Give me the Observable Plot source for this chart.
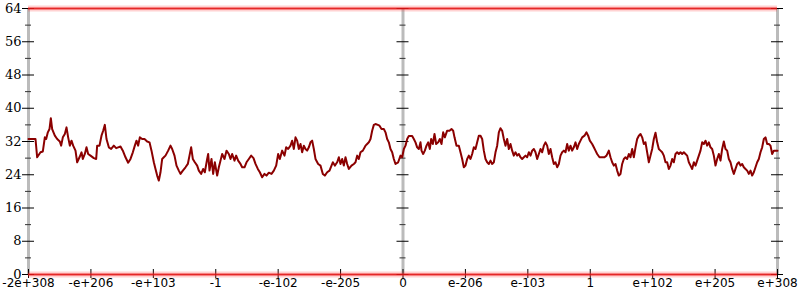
<!DOCTYPE html>
<html><head><meta charset="utf-8">
<script src="https://cdn.jsdelivr.net/npm/d3@7"></script>
<script src="https://cdn.jsdelivr.net/npm/@observablehq/plot@0.6"></script>
<style>body{margin:0;background:#fff}
.yax text{font-family:"DejaVu Serif",serif !important;font-size:13px !important}
.xax text{font-family:"DejaVu Sans",sans-serif !important;font-size:12px !important}
</style>
</head><body><div id="chart"></div>
<script>
const xTickLabels = ["-2e+308","-e+206","-e+103","-1","-e-102","-e-205","0","e-206","e-103","1","e+102","e+205","e+308"];
const yMajor = [0, 8, 16, 24, 32, 40, 48, 56, 64];
const yMinor = [4, 12, 20, 28, 36, 44, 52, 60];
const bandValues = [0, 64];
const lineT = [0,21,26,36,43,49,53,58,63,67,71,79,86,94,98,103,109,114,119,124,129,134,141,146,153,159,163,169,174,179,186,196,203,206,213,219,224,229,234,241,248,256,263,269,276,283,291,299,306,313,319,324,329,334,341,348,356,363,369,376,381,386,391,396,401,406,411,419,426,431,438,444,451,456,463,471,478,483,488,493,499,506,511,518,524,529,536,539,543,549,554,559,566,571,576,581,588,594,601,606,611,618,623,629,636,641,648,654,661,668,675,681,688,694,701,708,714,721,729,736,743,749,754,761,768,773,779,786,791,796,801,806,811,816,821,826,831,836,841,846,851,856,861,869,876,883,889,896,903,909,913,919,926,931,936,941,946,951,956,961,969,976,981,986,991,996,1003,1011,1016,1021,1026,1031,1036,1041,1048,1053,1059,1066,1071,1076,1081,1086,1091,1096,1101,1109,
1116,1121,1126,1131,1136,1141,1151,1156,1161,1166,1171,1176,1179,1184,1189,1194,1199,1204,1208,1213,1218,1223,1229,1234,1239,1244,1249,1256,1263,1269,1274,1278,1284,1291,1296,1301,1306,1311,1316,1321,1326,1331,1336,1341,1346,1351,1356,1361,1366,1371,1376,1381,1386,1391,1396,1401,1406,1411,1416,1421,1426,1431,1436,1441,1446,1451,1456,1461,1466,1471,1476,1481,1486,1491,1496,1501,1506,1511,1516,1521,1526,1531,1536,1541,1546,1551,1556,1561,1566,1571,1576,1581,1586,1591,1596,1601,1606,1611,1616,1621,1626,1631,1636,1641,1646,1651,1656,1661,1668,1674,1679,1684,1691,1696,1701,1706,1713,1721,1728,1734,1741,1746,1751,1756,1761,1766,1771,1776,1781,1786,1791,1796,1801,1806,1811,1816,1821,1826,1831,1836,1841,1846,1851,1856,1861,1866,1871,1876,1881,1886,1891,1896,1901,1906,1911,1916,1921,1926,1931,1936,1941,1946,1951,1956,1961,1966,1971,1976,1981,1986,1991,1996,2001,2006,2011,2016,2021,2026,2031,2036,2041,2046,2051,2056,2061,2066,2071,2076,2081,2086,2091,2096,2101,2106,2111,2116,2121,2126,2131,2136,2141,2146,2151,2156,2161,2166,2171,2176,2181,2186,2191,2196,2201,2206,2211,2216,2221,2226,2231,2236,2241,2247];
const lineV = [32.6,32.6,28.2,29.4,29.6,33.0,32.6,34.2,35.0,37.6,35.0,33.4,32.6,32.0,31.0,33.0,33.8,35.4,33.0,31.0,32.2,31.0,29.8,27.0,28.2,29.4,27.8,29.0,30.6,29.0,28.6,28.0,27.8,31.0,31.0,33.4,34.6,36.0,32.6,30.6,30.2,31.0,30.4,30.6,30.8,29.8,28.2,26.9,27.8,29.4,31.0,32.2,31.0,33.0,32.6,32.6,32.0,31.8,29.8,27.0,25.4,23.8,22.6,24.6,27.8,28.2,28.6,29.8,31.0,30.2,28.6,26.2,25.0,24.2,25.0,25.8,26.6,28.6,30.6,27.8,27.0,26.2,25.0,24.2,25.4,24.6,27.8,29.0,25.0,27.8,24.2,27.0,23.8,25.8,27.4,29.0,27.8,29.8,29.0,27.8,29.0,27.4,28.6,27.4,26.6,25.8,25.8,27.0,27.8,28.6,28.0,26.6,25.4,24.6,23.4,24.2,23.8,24.5,24.2,25.0,26.2,29.0,27.8,29.8,28.6,30.6,30.2,31.0,32.2,30.2,33.0,32.2,30.2,31.4,29.4,31.0,30.2,29.8,30.6,31.8,32.2,30.2,27.8,26.6,26.2,24.2,23.8,24.6,25.0,26.2,27.0,26.2,27.0,28.2,26.6,27.8,26.2,28.2,26.6,25.4,26.2,26.6,27.0,28.6,27.8,29.4,29.8,31.0,31.4,31.8,32.6,34.6,36.0,36.2,36.0,35.8,35.0,35.0,34.2,32.6,31.8,30.2,29.4,27.8,26.6,27.0,
28.6,28.2,30.2,31.0,32.6,33.3,33.3,32.6,31.8,30.6,30.2,31.8,29.8,29.0,29.8,31.0,31.8,30.2,32.6,31.4,33.8,31.4,31.8,32.6,31.4,34.2,33.0,34.6,34.6,35.0,34.6,33.0,31.0,31.0,29.4,27.8,25.8,26.2,27.8,28.6,27.8,29.0,30.6,30.2,31.8,33.4,33.4,32.6,29.8,27.8,27.0,26.6,27.4,26.6,27.0,29.4,31.0,34.2,35.2,34.6,32.6,31.0,32.6,30.2,31.4,29.8,28.6,29.4,28.6,29.0,28.2,27.8,28.2,28.6,28.2,29.4,28.6,29.8,30.2,29.4,27.8,29.0,30.2,29.4,31.0,31.8,31.0,29.0,30.2,28.2,26.6,27.0,25.8,26.6,28.6,29.4,29.8,29.4,31.4,29.8,31.0,29.8,30.6,31.8,30.2,31.4,32.2,33.0,33.4,34.2,33.4,32.2,31.4,30.6,29.8,29.0,28.2,28.2,28.2,28.6,29.8,28.2,27.0,26.2,26.6,25.0,23.8,24.2,26.6,27.8,28.2,27.8,29.0,28.2,30.2,28.2,30.6,32.6,33.4,33.8,33.0,31.4,31.8,29.4,27.0,28.6,30.2,32.6,34.1,31.8,30.2,29.8,29.4,28.6,27.0,27.0,25.4,26.2,27.8,27.0,29.0,29.4,29.0,29.4,29.0,29.4,29.0,28.6,27.0,26.2,25.4,27.0,26.2,27.4,28.6,29.8,31.8,31.4,32.2,31.0,31.8,30.6,30.2,28.6,26.2,27.8,29.0,27.4,30.2,32.0,30.2,29.8,27.8,27.0,25.4,24.2,25.4,26.6,27.0,26.2,26.6,25.8,25.4,25.0,24.2,25.0,23.8,24.6,25.8,27.0,27.8,29.4,30.6,32.6,33.0,31.4,31.4,31.0,29.0,29.8,29.8,29.8];

const N = 2247;
const xTicks = xTickLabels.map((_, i) => i * N / 12);
const axisPositions = [0, N / 2, N];
const line = lineT.map((t, i) => ({t, v: lineV[i]}));

const chart = Plot.plot({
  width: 800, height: 300,
  marginLeft: 28, marginRight: 23, marginTop: 8, marginBottom: 26,
  x: {domain: [0, N], label: null},
  y: {domain: [0, 64], label: null},
  style: {background: "white", color: "black"},
  marks: [
    Plot.ruleX(axisPositions, {stroke: "#bbb", strokeWidth: 3}),
    Plot.ruleY(d3.cross(axisPositions, yMajor), {x1: d => d[0], x2: d => d[0], y: d => d[1], insetLeft: -6, insetRight: -6, stroke: "#000"}),
    Plot.ruleY(d3.cross(axisPositions, yMinor), {x1: d => d[0], x2: d => d[0], y: d => d[1], insetLeft: -3, insetRight: -3, stroke: "#333"}),
    Plot.ruleX(xTicks, {x: d => d, y1: 0, y2: 0, insetTop: -5, insetBottom: -4, stroke: "#000"}),
    Plot.axisX({ticks: xTicks, tickFormat: d => xTickLabels[Math.round(d / (N / 12))], tickSize: 0, tickPadding: 4, label: null, className: "xax", fill: "#000"}),
    Plot.axisY({ticks: yMajor, tickSize: 0, tickPadding: 7, label: null, className: "yax", fill: "#000"}),
    Plot.ruleY(bandValues, {stroke: "#f33", strokeOpacity: 0.22, strokeWidth: 6}),
    Plot.ruleY(bandValues, {stroke: "#e22", strokeOpacity: 0.45, strokeWidth: 3}),
    Plot.ruleY(bandValues, {stroke: "#d11", strokeOpacity: 0.8, strokeWidth: 1}),
    Plot.line(line, {x: "t", y: "v", stroke: "#8b0000", strokeWidth: 2})
  ]
});
document.getElementById("chart").append(chart);
</script>
</body></html>
